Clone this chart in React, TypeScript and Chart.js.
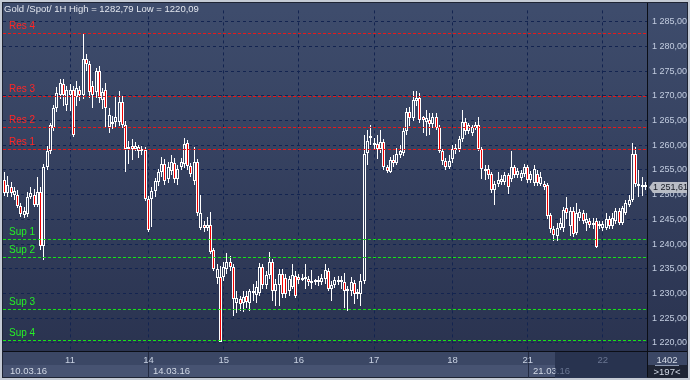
import React, { useEffect, useRef } from "react";
import { Chart, registerables } from "chart.js";

Chart.register(...registerables);

// ---- DATA (hourly candles, 10.03.16 – 22.03.16) ----
const opens = [
  1252.9, 1250.3, 1251.6, 1249.9, 1250.0, 1247.7, 1245.9, 1246.0, 1249.6, 1249.9,
  1247.9, 1250.6, 1239.7, 1255.6, 1258.8, 1263.5, 1267.5, 1270.1, 1272.4, 1268.1,
  1270.1, 1271.1, 1269.7, 1271.1, 1270.1, 1277.4, 1276.4, 1272.0, 1270.7, 1275.0,
  1269.1, 1271.1, 1263.7, 1264.7, 1264.7, 1264.7, 1268.7, 1264.1, 1259.2, 1259.8,
  1259.2, 1258.8, 1259.2, 1259.0, 1249.2, 1249.2, 1250.8, 1252.6, 1254.6, 1256.2,
  1253.2, 1254.8, 1256.4, 1253.2, 1255.6, 1256.2, 1260.4, 1255.8, 1252.8, 1256.6,
  1243.3, 1243.9, 1243.3, 1243.9, 1238.8, 1233.2, 1233.4, 1233.4, 1235.0, 1236.4,
  1235.4, 1228.0, 1228.9, 1228.0, 1229.4, 1228.1, 1230.0, 1229.6, 1230.0, 1235.4,
  1231.8, 1233.8, 1236.4, 1230.4, 1231.8, 1234.0, 1233.2, 1230.4, 1231.4, 1233.6,
  1233.4, 1232.8, 1232.9, 1233.0, 1232.2, 1232.3, 1232.3, 1232.3, 1233.0, 1234.6,
  1231.0, 1231.8, 1232.4, 1232.4, 1232.4, 1230.4, 1230.4, 1232.1, 1229.8, 1229.8,
  1232.6, 1258.4, 1261.4, 1260.0, 1260.2, 1259.2, 1260.7, 1255.5, 1254.6, 1257.0,
  1256.4, 1258.0, 1258.5, 1262.8, 1266.8, 1265.5, 1268.9, 1269.5, 1265.7, 1264.8,
  1265.1, 1264.4, 1265.8, 1263.6, 1258.8, 1256.9, 1255.6, 1257.2, 1259.0, 1259.2,
  1261.2, 1264.7, 1262.8, 1262.4, 1263.5, 1264.1, 1259.2, 1254.8, 1255.2, 1254.2,
  1250.9, 1252.2, 1252.6, 1252.6, 1253.9, 1253.2, 1255.5, 1253.9, 1253.4, 1254.2,
  1255.5, 1252.9, 1252.4, 1254.2, 1252.2, 1252.2, 1251.9, 1245.9, 1243.0, 1241.7,
  1243.3, 1243.3, 1247.3, 1243.6, 1246.6, 1242.3, 1245.3, 1246.3, 1244.3, 1244.6,
  1243.8, 1244.6, 1243.7, 1243.3, 1243.3, 1245.0, 1243.7, 1244.6, 1246.6, 1244.3,
  1246.3, 1247.9, 1248.9, 1258.3, 1251.8, 1251.9, 1251.5,
];
const highs = [
  1254.6, 1253.8, 1252.6, 1251.6, 1250.9, 1248.4, 1247.4, 1250.6, 1251.6, 1251.2,
  1253.5, 1251.5, 1256.3, 1259.8, 1264.6, 1268.2, 1271.7, 1273.5, 1273.4, 1272.0,
  1272.5, 1272.0, 1273.0, 1272.0, 1282.79, 1278.5, 1277.0, 1273.0, 1275.7, 1276.0,
  1271.5, 1272.6, 1267.6, 1265.9, 1269.7, 1271.0, 1269.9, 1265.0, 1260.8, 1261.2,
  1260.6, 1260.0, 1259.8, 1259.6, 1249.8, 1251.5, 1253.4, 1255.2, 1257.6, 1257.2,
  1256.6, 1258.0, 1257.5, 1256.0, 1257.4, 1261.4, 1261.1, 1256.5, 1259.6, 1257.2,
  1249.9, 1244.6, 1245.4, 1246.5, 1239.3, 1236.0, 1235.5, 1236.4, 1238.2, 1237.5,
  1236.0, 1230.5, 1229.5, 1230.5, 1230.5, 1231.0, 1232.0, 1232.5, 1236.2, 1236.0,
  1234.5, 1238.3, 1237.0, 1233.0, 1235.0, 1235.0, 1234.0, 1233.6, 1236.0, 1234.5,
  1234.0, 1234.0, 1236.0, 1233.6, 1234.7, 1233.0, 1233.5, 1234.0, 1235.9, 1235.2,
  1232.6, 1233.4, 1233.5, 1233.6, 1234.2, 1231.5, 1233.3, 1232.8, 1231.0, 1234.0,
  1262.1, 1263.1, 1264.1, 1261.5, 1262.0, 1263.0, 1261.2, 1256.0, 1257.6, 1258.0,
  1259.5, 1260.0, 1263.5, 1267.5, 1267.8, 1271.0, 1271.0, 1270.5, 1266.0, 1267.1,
  1266.5, 1266.5, 1266.5, 1264.0, 1259.3, 1257.5, 1258.0, 1260.0, 1260.2, 1261.8,
  1267.1, 1265.5, 1264.6, 1264.2, 1264.8, 1265.8, 1259.6, 1256.0, 1256.0, 1254.6,
  1252.8, 1254.6, 1254.0, 1254.6, 1254.4, 1258.8, 1256.0, 1255.3, 1255.0, 1256.2,
  1256.0, 1254.8, 1256.0, 1255.0, 1254.5, 1252.8, 1252.4, 1246.3, 1243.6, 1244.3,
  1245.3, 1247.6, 1249.6, 1247.5, 1247.6, 1248.3, 1247.0, 1246.8, 1246.3, 1245.2,
  1245.3, 1245.2, 1244.6, 1244.6, 1246.3, 1245.6, 1246.3, 1247.3, 1247.3, 1247.8,
  1249.0, 1250.0, 1260.5, 1259.7, 1254.9, 1253.5, 1252.5,
];
const lows = [
  1249.7, 1249.6, 1249.5, 1249.0, 1247.2, 1245.4, 1245.2, 1245.5, 1249.1, 1247.4,
  1247.5, 1238.7, 1236.8, 1255.0, 1258.2, 1262.8, 1266.8, 1269.3, 1268.0, 1266.9,
  1267.0, 1261.6, 1268.0, 1269.0, 1269.4, 1275.0, 1269.6, 1267.6, 1269.5, 1268.5,
  1267.4, 1263.5, 1262.5, 1263.2, 1263.5, 1263.8, 1263.4, 1254.6, 1256.2, 1257.0,
  1258.8, 1257.5, 1258.0, 1248.8, 1242.4, 1243.5, 1249.5, 1251.8, 1253.6, 1252.0,
  1252.3, 1254.0, 1252.3, 1252.0, 1255.0, 1255.4, 1255.0, 1253.5, 1252.0, 1245.6,
  1242.8, 1242.5, 1242.6, 1238.0, 1234.5, 1232.0, 1220.09, 1232.5, 1234.0, 1234.5,
  1225.5, 1226.1, 1226.5, 1226.3, 1227.0, 1226.5, 1228.5, 1228.0, 1229.5, 1231.0,
  1231.0, 1233.0, 1228.5, 1227.4, 1227.4, 1229.0, 1229.0, 1229.5, 1231.0, 1229.0,
  1232.0, 1232.5, 1231.0, 1231.5, 1231.0, 1231.8, 1231.5, 1231.8, 1232.0, 1230.5,
  1228.5, 1231.2, 1231.8, 1231.0, 1227.1, 1226.5, 1229.5, 1227.8, 1228.8, 1227.5,
  1232.0, 1256.0, 1260.0, 1259.0, 1257.3, 1258.5, 1255.0, 1254.4, 1254.3, 1255.5,
  1256.0, 1257.5, 1257.8, 1262.0, 1263.8, 1265.0, 1268.0, 1264.5, 1262.5, 1261.8,
  1262.1, 1263.5, 1263.0, 1258.5, 1256.0, 1255.0, 1255.2, 1256.5, 1258.3, 1258.6,
  1260.6, 1262.0, 1262.2, 1261.8, 1263.0, 1258.8, 1253.2, 1253.0, 1253.2, 1250.4,
  1247.9, 1251.5, 1252.0, 1252.0, 1250.2, 1252.6, 1253.3, 1253.3, 1252.7, 1253.6,
  1252.3, 1252.3, 1251.8, 1251.8, 1251.8, 1251.0, 1245.0, 1242.2, 1240.7, 1240.7,
  1242.8, 1242.5, 1245.0, 1241.7, 1241.5, 1241.8, 1244.6, 1244.0, 1242.7, 1243.2,
  1243.0, 1239.2, 1243.0, 1242.6, 1242.8, 1243.0, 1243.0, 1244.0, 1243.8, 1243.8,
  1245.8, 1247.5, 1248.5, 1251.5, 1249.6, 1249.8, 1251.0,
];
const closes = [
  1250.3, 1251.9, 1250.3, 1250.7, 1247.7, 1246.0, 1246.7, 1249.6, 1250.4, 1247.9,
  1250.6, 1239.7, 1255.6, 1258.8, 1264.1, 1267.5, 1270.5, 1272.6, 1270.1, 1271.1,
  1271.1, 1262.1, 1271.5, 1270.1, 1277.4, 1276.4, 1270.7, 1270.1, 1275.0, 1269.5,
  1270.7, 1267.5, 1266.1, 1264.3, 1265.7, 1268.7, 1264.1, 1259.2, 1259.6, 1259.2,
  1259.8, 1259.6, 1258.8, 1249.2, 1242.9, 1250.8, 1252.8, 1254.6, 1256.2, 1252.8,
  1255.6, 1256.6, 1253.2, 1255.2, 1256.6, 1260.2, 1255.8, 1254.2, 1256.6, 1246.3,
  1246.3, 1243.3, 1243.9, 1238.4, 1235.0, 1235.0, 1220.2, 1235.4, 1236.4, 1235.4,
  1228.8, 1229.0, 1227.9, 1229.2, 1228.3, 1230.4, 1230.4, 1231.4, 1235.4, 1231.8,
  1233.8, 1236.4, 1230.4, 1232.0, 1234.0, 1229.8, 1229.8, 1233.0, 1233.8, 1229.4,
  1232.8, 1233.2, 1233.3, 1232.4, 1232.5, 1232.5, 1232.8, 1233.1, 1234.8, 1231.0,
  1231.8, 1232.8, 1232.8, 1232.8, 1230.4, 1230.8, 1232.4, 1229.8, 1230.2, 1232.6,
  1258.3, 1260.9, 1261.8, 1260.5, 1259.2, 1260.7, 1255.5, 1254.8, 1257.0, 1256.4,
  1258.2, 1258.8, 1262.8, 1266.8, 1265.5, 1269.1, 1269.5, 1265.1, 1265.1, 1265.5,
  1264.4, 1265.8, 1263.5, 1258.8, 1256.8, 1255.5, 1256.8, 1259.2, 1259.4, 1261.2,
  1264.8, 1262.8, 1264.0, 1263.6, 1264.1, 1259.2, 1255.2, 1255.2, 1253.9, 1250.9,
  1252.2, 1252.9, 1253.2, 1253.9, 1251.6, 1255.5, 1253.9, 1254.7, 1254.4, 1255.5,
  1252.9, 1254.2, 1255.2, 1252.4, 1253.6, 1251.6, 1245.6, 1243.0, 1241.8, 1243.3,
  1244.3, 1246.9, 1246.3, 1246.6, 1242.0, 1246.3, 1246.4, 1244.6, 1245.0, 1243.9,
  1244.3, 1239.4, 1244.0, 1244.0, 1245.0, 1243.7, 1245.3, 1246.6, 1244.3, 1247.3,
  1248.3, 1248.9, 1258.3, 1252.2, 1252.2, 1251.6, 1251.61,
];

const dayTickIndex = [20, 44, 67, 90, 113, 137, 160, 183];
const dayTickLabels = ["11", "14", "15", "16", "17", "18", "21", "22"];
const weekStartIndex = [0, 44, 160];
const weekLabels = ["10.03.16", "14.03.16", "21.03.16"];
const resLevels = [1259.32, 1263.68, 1270.02, 1282.79];
const resLabels = ["Res 1", "Res 2", "Res 3", "Res 4"];
const supLevels = [1241.0, 1237.32, 1226.87, 1220.65];
const supLabels = ["Sup 1", "Sup 2", "Sup 3", "Sup 4"];
const yMin = 1218.35;
const yMax = 1287.3;
const yStep = 5;
const titleText = "Gold /Spot/ 1H High = 1282,79 Low = 1220,09";
const lastPrice = 1251.61;
const totalBarsText = "1402";
const visibleBarsText = ">197<";
const sessionStart = 168.4;

const FONT = "'Liberation Sans', Arial, sans-serif";

function fmtPrice(v: number): string {
  const s = v.toFixed(2);
  const [intPart, dec] = s.split(".");
  const spaced =
    intPart.length > 3 ? intPart.slice(0, intPart.length - 3) + " " + intPart.slice(-3) : intPart;
  return spaced + "," + dec;
}

export default function App() {
  const ref = useRef<HTMLCanvasElement | null>(null);

  useEffect(() => {
    document.body.style.margin = "0";
    const canvas = ref.current;
    if (!canvas) return;

    const dayMap = new Map<number, string>();
    dayTickIndex.forEach((d, k) => dayMap.set(d, dayTickLabels[k]));

    let grad: CanvasGradient | null = null;
    const getGrad = (chart: any) => {
      if (!grad) {
        const a = chart.chartArea;
        grad = chart.ctx.createLinearGradient(0, a.top, 0, a.bottom);
        grad!.addColorStop(0, "#3e4c6c");
        grad!.addColorStop(1, "#2a3350");
      }
      return grad;
    };

    const labels = opens.map((_, i) => String(i));
    const wickData = lows.map((l, i) => [l, highs[i]]);
    const bodyData = opens.map((o, i) => [Math.min(o, closes[i]), Math.max(o, closes[i])]);

    const bgPlugin = {
      id: "bg",
      beforeDraw(chart: any) {
        const { ctx, chartArea: a } = chart;
        const xs = chart.scales.x;
        ctx.save();
        ctx.fillStyle = "#c5cbd5";
        ctx.fillRect(0, 0, 690, 380);
        ctx.fillStyle = "#1e2434";
        ctx.fillRect(2, 2, 686, 376);
        ctx.fillStyle = getGrad(chart);
        ctx.fillRect(3, 3, 684, a.bottom - 3);
        ctx.fillStyle = "#3b4765";
        ctx.fillRect(3, a.bottom + 1, 684, 13);
        ctx.fillStyle = "#475372";
        ctx.fillRect(3, a.bottom + 14, a.right - 3, 12);
        const hx = Math.round(xs.getPixelForValue(sessionStart));
        ctx.fillStyle = "#28334f";
        ctx.fillRect(hx, a.bottom + 1, a.right - hx, 26);
        weekStartIndex.forEach((idx) => {
          if (idx === 0) return;
          const px = Math.round(xs.getPixelForValue(idx));
          ctx.fillStyle = "#222a42";
          ctx.fillRect(px, a.bottom + 1, 1, 26);
        });
        ctx.restore();
      },
    };

    const snapPlugin = {
      id: "snap",
      beforeDatasetsDraw(chart: any) {
        chart.data.datasets.forEach((_: any, di: number) => {
          const meta = chart.getDatasetMeta(di);
          meta.data.forEach((el: any) => {
            el.x = Math.floor(el.x) + 0.5;
            el.y = Math.round(el.y);
            el.base = Math.round(el.base);
            if (di === 1 && Math.abs(el.base - el.y) < 2) el.y = el.base - 2;
          });
        });
      },
    };

    const levelsPlugin = {
      id: "levels",
      afterDatasetsDraw(chart: any) {
        const { ctx, chartArea: a } = chart;
        const y = chart.scales.y;
        ctx.save();
        ctx.globalAlpha = 1;
        ctx.globalCompositeOperation = "source-over";
        ctx.font = `10px ${FONT}`;
        ctx.textBaseline = "alphabetic";
        ctx.textAlign = "left";
        const left = Math.round(a.left);
        const right = Math.round(a.right);
        const draw = (levels: number[], names: string[], lineColor: string, textColor: string) => {
          levels.forEach((lv, k) => {
            const py = Math.round(y.getPixelForValue(lv));
            ctx.fillStyle = lineColor;
            for (let x = left; x < right; x += 5) {
              ctx.fillRect(x, py, Math.min(3, right - x), 1);
            }
            ctx.fillStyle = textColor;
            ctx.fillText(names[k], 9, py - 4);
          });
        };
        draw(resLevels, resLabels, "#e81818", "#ff2626");
        draw(supLevels, supLabels, "#16e416", "#26f026");
        ctx.restore();
      },
    };

    const overlayPlugin = {
      id: "overlay",
      afterDraw(chart: any) {
        const { ctx, chartArea: a } = chart;
        const xs = chart.scales.x;
        const ys = chart.scales.y;
        ctx.save();
        ctx.fillStyle = "#0b0e16";
        ctx.fillRect(3, a.bottom, 684, 1);
        ctx.fillRect(a.right, 3, 1, 374);
        ctx.font = `9.5px ${FONT}`;
        ctx.fillStyle = "#e2e6ee";
        ctx.textAlign = "left";
        ctx.textBaseline = "alphabetic";
        ctx.fillText(titleText, 4, 12);
        const hx = Math.round(xs.getPixelForValue(sessionStart));
        weekStartIndex.forEach((idx, k) => {
          const px = Math.round(xs.getPixelForValue(idx)) + 5;
          ctx.save();
          ctx.beginPath();
          ctx.rect(0, a.bottom, hx, 30);
          ctx.clip();
          ctx.fillStyle = "#d2d9e6";
          ctx.fillText(weekLabels[k], px, 374);
          ctx.restore();
          ctx.save();
          ctx.beginPath();
          ctx.rect(hx, a.bottom, a.right - hx, 30);
          ctx.clip();
          ctx.fillStyle = "#6a7692";
          ctx.fillText(weekLabels[k], px, 374);
          ctx.restore();
        });
        const py = Math.round(ys.getPixelForValue(lastPrice)) + 0.5;
        ctx.fillStyle = "#b9bdc6";
        ctx.beginPath();
        ctx.moveTo(a.right + 2, py);
        ctx.lineTo(a.right + 6, py - 5.5);
        ctx.lineTo(687, py - 5.5);
        ctx.lineTo(687, py + 5.5);
        ctx.lineTo(a.right + 6, py + 5.5);
        ctx.closePath();
        ctx.fill();
        ctx.fillStyle = "#151a24";
        ctx.font = `9px ${FONT}`;
        ctx.textBaseline = "middle";
        ctx.fillText(fmtPrice(lastPrice), a.right + 6, py + 0.5);
        ctx.textAlign = "center";
        ctx.textBaseline = "alphabetic";
        ctx.font = `9.5px ${FONT}`;
        ctx.fillStyle = "#d2d9e6";
        const cx = (a.right + 687) / 2;
        ctx.fillText(totalBarsText, cx, 363);
        ctx.fillStyle = "#8e9ab2";
        ctx.fillRect(cx - 12, 365, 24, 1);
        ctx.fillStyle = "#d2d9e6";
        ctx.fillText(visibleBarsText, cx, 375);
        ctx.restore();
      },
    };

    const gridColor = "#132450";

    const chart = new Chart(canvas, {
      type: "bar",
      data: {
        labels,
        datasets: [
          {
            data: wickData as any,
            backgroundColor: "#ffffff",
            borderWidth: 0,
            barThickness: 1,
            grouped: false,
            inflateAmount: 0,
            order: 2,
          } as any,
          {
            data: bodyData as any,
            backgroundColor: (c: any) => {
              const i = c.dataIndex;
              if (i === undefined) return "#ff0000";
              return closes[i] < opens[i] ? "#f00000" : getGrad(c.chart);
            },
            borderColor: "#ffffff",
            borderWidth: 1,
            borderSkipped: false,
            barThickness: 3,
            grouped: false,
            inflateAmount: 0,
            order: 1,
          } as any,
        ],
      },
      options: {
        responsive: false,
        animation: false,
        devicePixelRatio: 1,
        events: [],
        layout: { padding: { left: 3, top: 3, right: 3, bottom: 3 } },
        plugins: { legend: { display: false }, tooltip: { enabled: false } },
        scales: {
          x: {
            type: "category",
            offset: true,
            grid: {
              offset: false,
              drawTicks: false,
              lineWidth: 1,
              color: (c: any) => (dayMap.has(c.index) ? gridColor : "rgba(0,0,0,0)"),
            },
            border: { display: false, dash: [3, 3] },
            ticks: {
              autoSkip: false,
              maxRotation: 0,
              minRotation: 0,
              padding: 4,
              font: { family: FONT, size: 9.5 },
              color: (c: any) => (c.index >= sessionStart ? "#6a7692" : "#c8d1e2"),
              callback: (_v: any, i: number) => dayMap.get(i) ?? "",
            },
            afterFit: (s: any) => {
              s.height = 26;
            },
          },
          y: {
            type: "linear",
            position: "right",
            min: yMin,
            max: yMax,
            grid: { drawTicks: false, color: gridColor, lineWidth: 1 },
            border: { display: false, dash: [3, 3] },
            ticks: {
              stepSize: yStep,
              includeBounds: false,
              padding: 5,
              font: { family: FONT, size: 9 },
              color: "#c3cde0",
              callback: (v: any) => fmtPrice(Number(v)),
            },
            afterFit: (s: any) => {
              s.width = 40;
            },
          },
        },
      } as any,
      plugins: [bgPlugin, snapPlugin, levelsPlugin, overlayPlugin],
    });

    return () => chart.destroy();
  }, []);

  return (
    <div style={{ position: "absolute", left: 0, top: 0, width: 690, height: 380 }}>
      <canvas ref={ref} width={690} height={380} style={{ display: "block", width: 690, height: 380 }} />
    </div>
  );
}
